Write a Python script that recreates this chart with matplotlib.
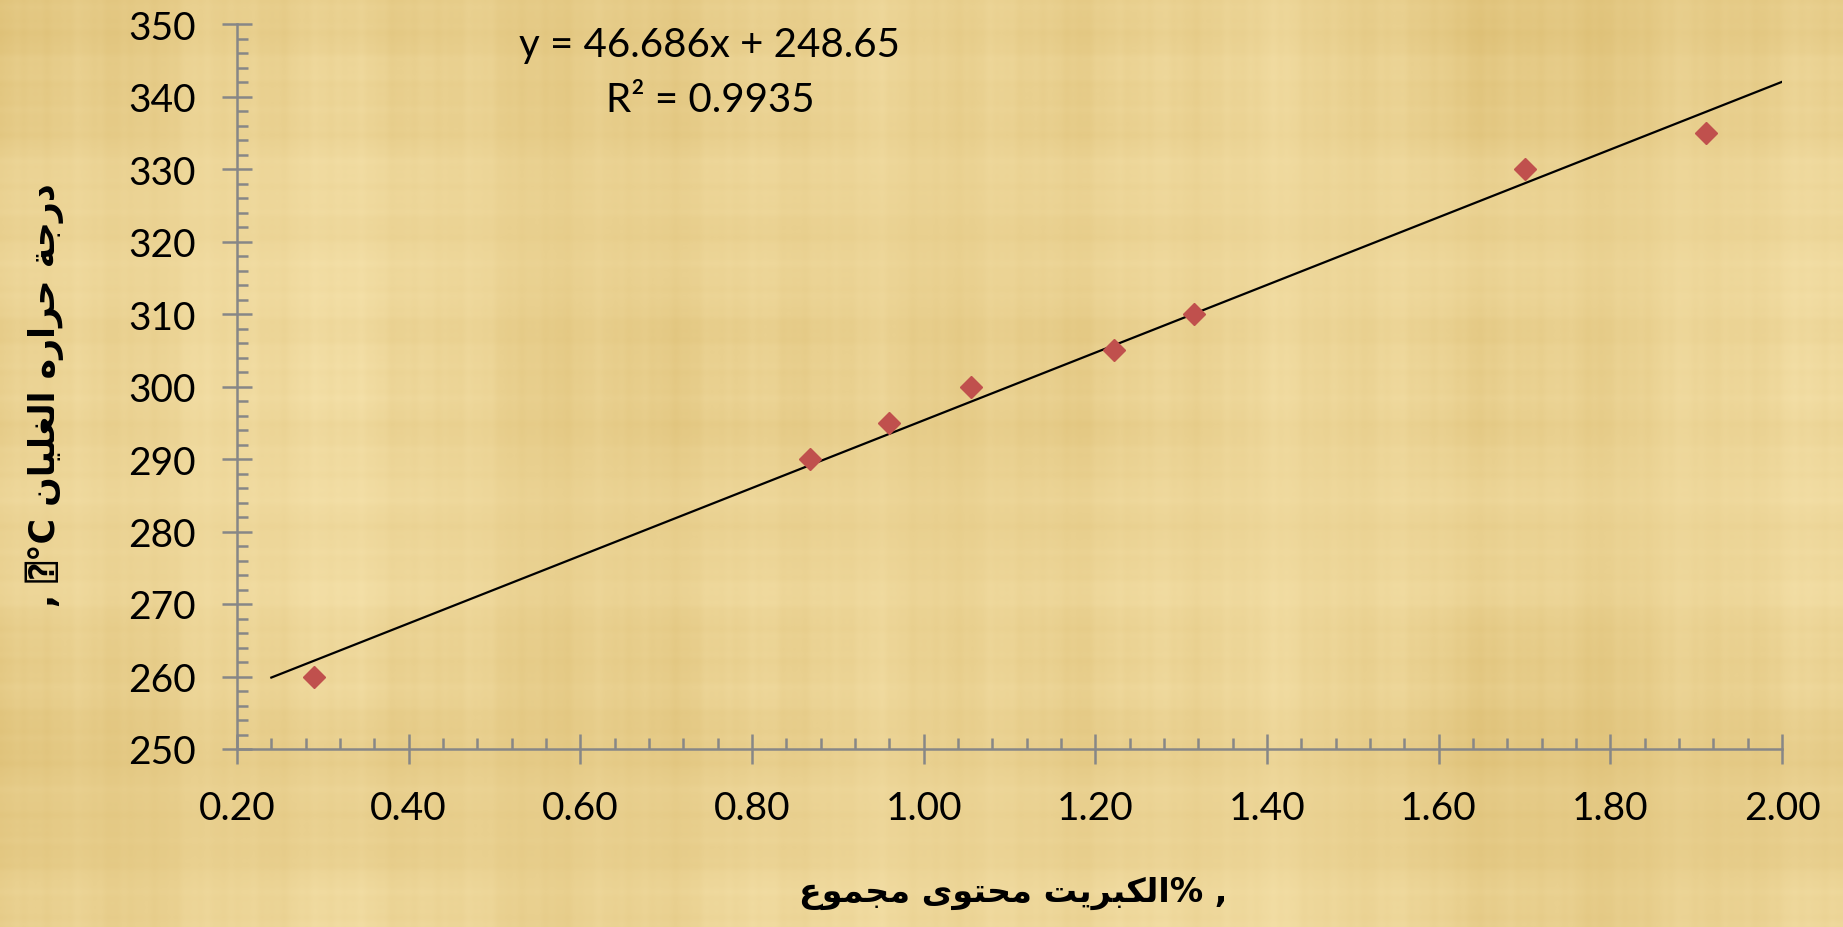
import numpy as np
import matplotlib
matplotlib.use("Agg")
import matplotlib.pyplot as plt
from matplotlib.ticker import MultipleLocator, FormatStrFormatter

# sulfur content (%) vs boiling temperature (C)
sulfur = [0.29, 0.868, 0.96, 1.055, 1.222, 1.315, 1.70, 1.912]
boiling = [260, 290, 295, 300, 305, 310, 330, 335]

# trendline as reported on the chart
slope, intercept = 46.686, 248.65
r_squared = 0.9935
trend_x = [0.24, 2.00]

# arabic labels, pre-shaped (presentation forms) in visual order
x_label = ("\uFEC9\uFEEE\uFEE4\uFEA0\uFEE3 "
           "\uFEEF\uFEEE\uFE98\uFEA4\uFEE3 "
           "\uFE96\uFEF3\uFEAE\uFE92\uFEDC\uFEDF\uFE8D% ,")
y_label = (", \u2370\u00b0C "
           "\uFEE5\uFE8E\uFEF4\uFEE0\uFED0\uFEDF\uFE8D "
           "\uFEE9\uFEAD\uFE8D\uFEAE\uFEA3 "
           "\uFE94\uFE9F\uFEAD\uFEA9")

W, H = 1843, 928
fig = plt.figure(figsize=(W / 100, H / 100), dpi=100)

# papyrus-like background: woven vertical/horizontal fibre streaks + soft blotches
bg = fig.add_axes([0, 0, 1, 1], zorder=-10)
yy, xx = np.mgrid[0:H, 0:W].astype(float)
fx = np.zeros(W)
fy = np.zeros(H)
xs = np.arange(W)
ys = np.arange(H)
for f, p, a in [(0.013, 0.4, 0.5), (0.047, 1.3, 0.35), (0.11, 2.2, 0.2),
                (0.29, 0.7, 0.12), (0.53, 1.9, 0.08), (0.0071, 2.8, 0.4)]:
    fx += a * np.sin(xs * f + p)
for f, p, a in [(0.017, 1.1, 0.45), (0.061, 0.2, 0.3), (0.13, 2.6, 0.18),
                (0.37, 1.4, 0.1), (0.61, 0.5, 0.07), (0.0093, 0.9, 0.35)]:
    fy += a * np.sin(ys * f + p)
tex = fx[None, :] * (0.8 + 0.2 * np.sin(yy * 0.021)) + fy[:, None] * (0.8 + 0.2 * np.cos(xx * 0.017))
tex += 0.5 * np.sin(xx * 0.004 + 1.0) * np.sin(yy * 0.007 + 2.0)
tex = (tex - tex.min()) / (tex.max() - tex.min())
light = np.array([244, 224, 168]) / 255
dark = np.array([222, 192, 118]) / 255
img = light * (1 - tex[..., None]) + dark * tex[..., None]
bg.imshow(img, aspect="auto", interpolation="bilinear", extent=[0, 1, 0, 1])
bg.set_axis_off()

ax = fig.add_axes([237 / W, 1 - 750 / H, (1782 - 237) / W, (750 - 25) / H])
ax.patch.set_alpha(0)

ax.plot(trend_x, [slope * v + intercept for v in trend_x], color="black", lw=1.6, zorder=2)
ax.plot(sulfur, boiling, "D", color="#C0504D", ms=11.5, mec="#C0504D", zorder=3)

ax.set_xlim(0.2, 2.0)
ax.set_ylim(250, 350)
ax.xaxis.set_major_locator(MultipleLocator(0.2))
ax.xaxis.set_minor_locator(MultipleLocator(0.04))
ax.yaxis.set_major_locator(MultipleLocator(10))
ax.yaxis.set_minor_locator(MultipleLocator(2))
ax.xaxis.set_major_formatter(FormatStrFormatter("%.2f"))

axis_grey = "#878787"
for side in ["top", "right"]:
    ax.spines[side].set_visible(False)
for side in ["left", "bottom"]:
    ax.spines[side].set_color(axis_grey)
    ax.spines[side].set_linewidth(1.8)

ax.tick_params(which="major", direction="inout", length=21, width=1.8,
               color=axis_grey, labelsize=28, pad=19)
ax.tick_params(which="minor", direction="in", length=8, width=1.8, color=axis_grey)
for lab in ax.get_xticklabels() + ax.get_yticklabels():
    lab.set_fontfamily("Lato")

ax.text(0.751, 347.2, "y = 46.686x + 248.65", ha="center", va="center",
        fontsize=29, family="Lato")
ax.text(0.751, 339.6, "R\u00b2 = %.4f" % r_squared, ha="center", va="center",
        fontsize=29, family="Lato")

fig.text(1013 / W, 1 - 893 / H, x_label, ha="center", va="center",
         fontsize=24, fontweight="bold", family=["DejaVu Sans", "DejaVu Sans Mono"])
fig.text(45 / W, 1 - 395 / H, y_label, ha="center", va="center", rotation=90,
         fontsize=25, fontweight="bold", family=["DejaVu Sans", "DejaVu Sans Mono"])

fig.savefig("out.png", dpi=100)
